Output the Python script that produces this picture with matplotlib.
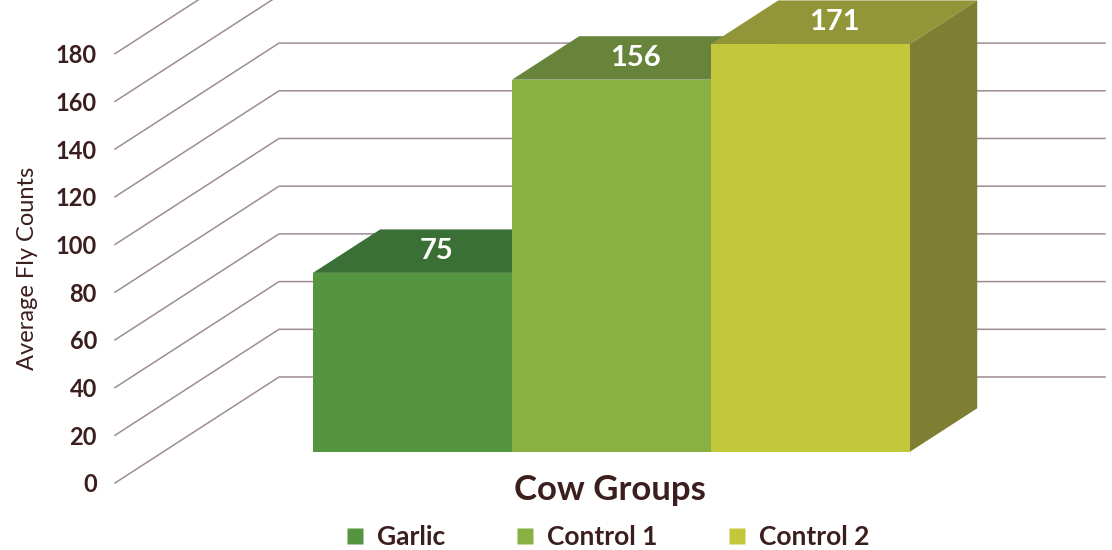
"""Average fly counts per cow group, drawn as a pseudo-3D bar chart."""

import matplotlib
matplotlib.use("Agg")
import matplotlib.pyplot as plt
from matplotlib.lines import Line2D
from matplotlib.patches import Polygon

groups = ["Garlic", "Control 1", "Control 2"]
fly_counts = [75, 156, 171]
y_ticks = [0, 20, 40, 60, 80, 100, 120, 140, 160, 180]

front_colors = ["#56953f", "#88b042", "#c2c839"]
top_colors = ["#3a6f35", "#68833a", "#939638"]
side_colors = ["#2f5a2b", "#5c7330", "#7f7f33"]
grid_color = "#9f8c93"
text_color = "#3b1e1e"

plt.rcParams["font.family"] = ["Lato", "DejaVu Sans"]

W, H = 1112, 550
PX_X = 199.0     # pixels per category
PX_Y = 2.385     # pixels per count
DEPTH_PX = (164, 106)
kx = DEPTH_PX[0] / PX_X
ky = DEPTH_PX[1] / PX_Y
z0, z1 = 0.295, 0.705   # bar depth span as fraction of floor depth

left_px, right_px, floor_px = 115, 941, 483
x_lo = -0.5 - (313 - DEPTH_PX[0] * z0 - left_px) / PX_X
x_hi = x_lo + (right_px - left_px) / PX_X
y_hi = floor_px / PX_Y

fig = plt.figure(figsize=(W / 100, H / 100), dpi=100)
ax = fig.add_axes([left_px / W, (H - floor_px) / H,
                   (right_px - left_px) / W, floor_px / H])
ax.set_xlim(x_lo, x_hi)
ax.set_ylim(0, y_hi)
for s in ax.spines.values():
    s.set_visible(False)
ax.set_xticks([])
ax.set_yticks(y_ticks)
ax.tick_params(axis="y", length=0, pad=13, labelsize=17, labelcolor=text_color)
for lab in ax.get_yticklabels():
    lab.set_fontweight("bold")

# floor diagonals and back wall lines
for v in y_ticks:
    ax.plot([x_lo, x_lo + kx, x_hi + kx], [v, v + ky, v + ky],
            color=grid_color, lw=1.1, clip_on=False, zorder=1)

# bars, left to right so neighbours cover hidden sides
xs = range(len(groups))
for i, (x, h) in enumerate(zip(xs, fly_counts)):
    xl, xr = x - 0.5, x + 0.5
    ax.bar(x + z0 * kx, h, width=1.0, bottom=z0 * ky, color=front_colors[i],
           linewidth=0, zorder=2 + i, clip_on=False)
    top = [(xl + z0 * kx, h + z0 * ky), (xr + z0 * kx, h + z0 * ky),
           (xr + z1 * kx, h + z1 * ky), (xl + z1 * kx, h + z1 * ky)]
    side = [(xr + z0 * kx, z0 * ky), (xr + z1 * kx, z1 * ky),
            (xr + z1 * kx, h + z1 * ky), (xr + z0 * kx, h + z0 * ky)]
    ax.add_patch(Polygon(top, closed=True, fc=top_colors[i], ec="none",
                         zorder=2 + i, clip_on=False))
    ax.add_patch(Polygon(side, closed=True, fc=side_colors[i], ec="none",
                         zorder=2 + i, clip_on=False))
    zm = (z0 + z1) / 2
    ax.text(x + 0.44 * kx, h + zm * ky, str(h), color="white", fontsize=21,
            fontweight="bold", ha="center", va="center", zorder=10, clip_on=False)

fig.text(28 / W, 1 - 268 / H, "Average Fly Counts", rotation=90, ha="center",
         va="center", fontsize=17, color=text_color)
fig.text(610 / W, 1 - 490 / H, "Cow Groups", ha="center", va="center",
         fontsize=25, fontweight="bold", color=text_color)

handles = [Line2D([], [], marker="s", ls="none", markersize=11,
                  markerfacecolor=c, markeredgecolor="none") for c in front_colors]
leg = fig.legend(handles, groups, loc="center", bbox_to_anchor=(607 / W, 1 - 537 / H),
                 ncol=3, frameon=False, handlelength=0.8, handletextpad=0.45,
                 columnspacing=2.6, prop={"size": 19, "weight": "bold"})
for t in leg.get_texts():
    t.set_color(text_color)

fig.savefig("out.png", dpi=100)
